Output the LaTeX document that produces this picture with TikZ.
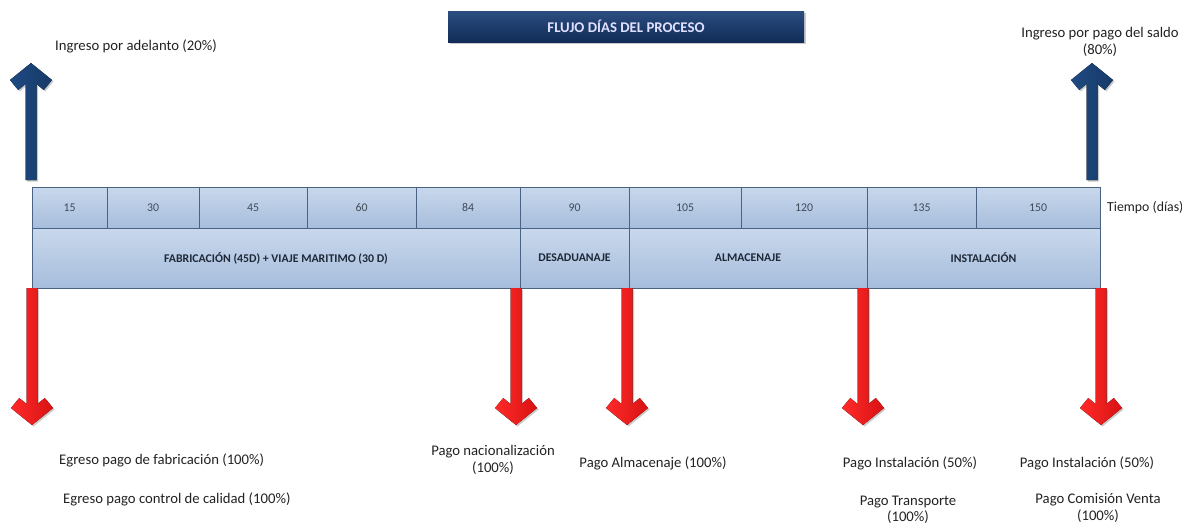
\documentclass[tikz,border=0pt]{standalone}
\usepackage{fontspec}
\setmainfont{Carlito}
\usetikzlibrary{shadows}
\definecolor{cellTop}{HTML}{C9D8EC}
\definecolor{cellBot}{HTML}{A6BDDC}
\definecolor{cellLine}{HTML}{4A6284}
\definecolor{navyTop}{HTML}{2B4D80}
\definecolor{navyBot}{HTML}{112C57}
\definecolor{arrBlue}{HTML}{1F4A82}
\definecolor{arrBlueD}{HTML}{173A68}
\definecolor{arrRed}{HTML}{FF2A2A}
\definecolor{arrRedD}{HTML}{D81212}
\definecolor{numText}{HTML}{404A58}
\definecolor{labText}{HTML}{1E2838}
\definecolor{txt}{HTML}{222222}
\tikzset{
  cell/.style={draw=cellLine, line width=0.8pt, top color=cellTop, bottom color=cellBot,
    inner sep=0pt, outer sep=0pt, font=\fontsize{11.8}{13}\selectfont, text=numText},
  phase/.style={cell, font=\fontsize{11.8}{13}\selectfont\bfseries, text=labText},
  lbl/.style={font=\fontsize{14.7}{16.5}\selectfont, text=txt, inner sep=0pt, align=center},
  shadowed/.style={drop shadow={shadow xshift=1.5pt, shadow yshift=-1.5pt, opacity=0.35, fill=black!60}},
  pics/redarrow/.style={code={
    \fill[shadowed, left color=arrRed, right color=arrRedD]
      (-5.5,0) -- (-5.5,116) -- (-12.8,110) -- (-21,120) -- (0,137) -- (21,120)
      -- (12.8,110) -- (5.5,116) -- (5.5,0) -- cycle;}},
  pics/bluearrow/.style={code={
    \fill[shadowed, left color=arrBlue, right color=arrBlueD]
      (-5.5,0) -- (-5.5,-96) -- (-12.8,-90) -- (-21,-100) -- (0,-117) -- (21,-100)
      -- (12.8,-90) -- (5.5,-96) -- (5.5,0) -- cycle;}},
}
\begin{document}
\begin{tikzpicture}[x=1pt,y=-1pt]
\useasboundingbox (0,0) rectangle (1182,525);

% title
\node[shadowed, top color=navyTop, bottom color=navyBot, minimum width=356pt, minimum height=31pt,
  inner sep=0pt, font=\fontsize{14.8}{16}\selectfont\bfseries, text=white!88!blue]
  (title) at (626,26.5) {FLUJO DÍAS DEL PROCESO};

% time row
\node[cell, minimum width=75pt,  minimum height=41pt] (c15)  at (69.5,207.5) {15};
\node[cell, minimum width=92pt,  minimum height=41pt] (c30)  at (153,207.5) {30};
\node[cell, minimum width=108pt, minimum height=41pt] (c45)  at (253,207.5) {45};
\node[cell, minimum width=109pt, minimum height=41pt] (c60)  at (361.5,207.5) {60};
\node[cell, minimum width=104pt, minimum height=41pt] (c84)  at (468,207.5) {84};
\node[cell, minimum width=109pt, minimum height=41pt] (c90)  at (574.5,207.5) {90};
\node[cell, minimum width=112pt, minimum height=41pt] (c105) at (685,207.5) {105};
\node[cell, minimum width=126pt, minimum height=41pt] (c120) at (804,207.5) {120};
\node[cell, minimum width=109pt, minimum height=41pt] (c135) at (921.5,207.5) {135};
\node[cell, minimum width=124pt, minimum height=41pt] (c150) at (1038,207.5) {150};

% phase row
\node[phase, minimum width=488pt, minimum height=60pt] (fab) at (276,258) {FABRICACIÓN (45D) + VIAJE MARITIMO (30 D)};
\node[phase, minimum width=109pt, minimum height=60pt] (des) at (574.5,258) {DESADUANAJE};
\node[phase, minimum width=238pt, minimum height=60pt] (alm) at (748,258) {ALMACENAJE};
\node[phase, minimum width=233pt, minimum height=60pt] (ins) at (983.5,258) {INSTALACIÓN};

\node[lbl, anchor=west, font=\fontsize{13.8}{15}\selectfont] (tiempo) at (1107,207.5) {Tiempo (días)};

% income arrows
\coordinate (b1) at ([xshift=-1pt,yshift=7pt]c15.north west);
\coordinate (b2) at ([xshift=-8pt,yshift=7pt]c150.north east);
\pic at (b1) {bluearrow};
\pic at (b2) {bluearrow};

% expense arrows
\coordinate (r1) at (fab.south west);
\coordinate (r2) at ([xshift=-4pt]fab.south east);
\coordinate (r3) at ([xshift=-2pt]des.south east);
\coordinate (r4) at ([xshift=-4pt]alm.south east);
\coordinate (r5) at ([xshift=1pt]ins.south east);
\pic at (r1) {redarrow};
\pic at (r2) {redarrow};
\pic at (r3) {redarrow};
\pic at (r4) {redarrow};
\pic at (r5) {redarrow};

% labels
\node[lbl, anchor=west] (in1) at (55,46) {Ingreso por adelanto (20\%)};
\node[lbl] (in2) at (1100,42) {Ingreso por pago del saldo\\(80\%)};

\node[lbl, anchor=west] (e1) at (59,460) {Egreso pago de fabricación (100\%)};
\node[lbl, anchor=west] (e2) at (63,499) {Egreso pago control de calidad (100\%)};
\node[lbl] (pn) at (493,460) {Pago nacionalización\\(100\%)};
\node[lbl] (pa) at (653,463) {Pago Almacenaje (100\%)};
\node[lbl] (pi1) at (910,463) {Pago Instalación (50\%)};
\node[lbl] (pt) at (908,510) {Pago Transporte\\(100\%)};
\node[lbl] (pi2) at (1087,463) {Pago Instalación (50\%)};
\node[lbl] (pc) at (1098,508) {Pago Comisión Venta\\(100\%)};
\end{tikzpicture}
\end{document}
